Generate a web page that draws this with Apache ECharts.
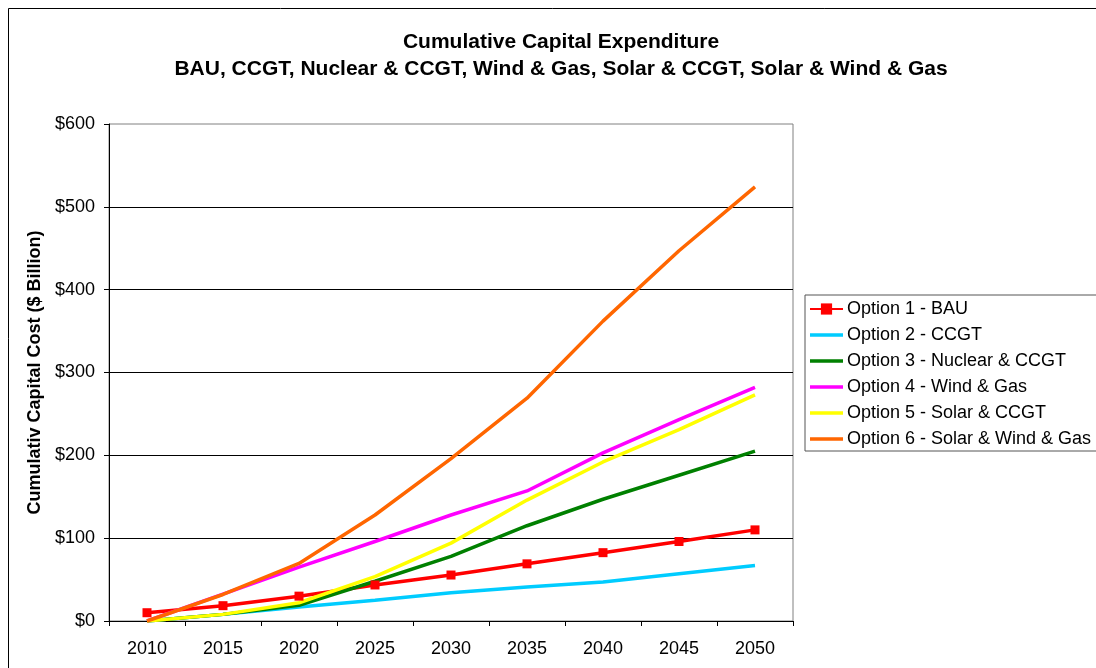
<!DOCTYPE html>
<html>
<head>
<meta charset="utf-8">
<script src="https://cdn.jsdelivr.net/npm/echarts@6/dist/echarts.min.js"></script>
<style>
  html, body { margin: 0; padding: 0; background: #fff; }
  #main { width: 1096px; height: 668px; }
</style>
</head>
<body>
<div id="main"></div>
<script>
// years on the x axis
var years = ['2010', '2015', '2020', '2025', '2030', '2035', '2040', '2045', '2050'];

// cumulative capital cost, $ billion
var bau        = [10, 18.5, 30, 43.5, 55.5, 69, 82.5, 96, 110];
var ccgt       = [0, 8, 17, 25, 34, 41, 47, 57, 67];
var nuclear    = [0, 8, 19, 48, 78, 115, 147, 176, 205];
var windGas    = [0, 32.5, 65, 96, 128, 157, 203, 243, 282];
var solarCcgt  = [0, 8, 22, 53.5, 94, 146, 192, 231, 273];
var solarWind  = [0, 32, 69.5, 128, 196, 269, 362, 447, 524];

var font = '"Liberation Sans", Arial, sans-serif';
// plain line for the legend (thin invisible sliver keeps the full height so the bar stays centred)
var lineIcon = 'path://M0,5.25 H33 V8.75 H0 Z M0,0 H0.01 V14 H0 Z';

var chart = echarts.init(document.getElementById('main'));

function lineSeries(name, data, color) {
  return {
    name: name,
    type: 'line',
    data: data,
    symbol: 'none',
    lineStyle: { color: color, width: 3.5 },
    itemStyle: { color: color },
    emphasis: { disabled: true }
  };
}

var option = {
  animation: false,
  backgroundColor: '#fff',
  title: {
    text: 'Cumulative Capital Expenditure\nBAU, CCGT, Nuclear & CCGT, Wind & Gas, Solar & CCGT, Solar & Wind & Gas',
    left: 556,
    top: 24,
    textAlign: 'center',
    textStyle: {
      fontFamily: font,
      fontWeight: 'bold',
      fontSize: 21,
      lineHeight: 27,
      color: '#000'
    }
  },
  graphic: [{
    type: 'rect',
    shape: { x: 8.5, y: 8.5, width: 1200, height: 800 },
    style: { fill: null, stroke: '#000', lineWidth: 1 },
    z: -1
  }],
  legend: {
    orient: 'vertical',
    left: 805,
    top: 295,
    padding: [5, 10, 3, 4],
    itemWidth: 33,
    itemHeight: 14,
    itemGap: 8,
    borderColor: '#555',
    borderWidth: 1,
    textStyle: { fontFamily: font, fontSize: 18, lineHeight: 18, color: '#000', padding: [0, 0, 0, -1] },
    data: [
      { name: 'Option 1 - BAU' },
      { name: 'Option 2 - CCGT', icon: lineIcon },
      { name: 'Option 3 - Nuclear & CCGT', icon: lineIcon },
      { name: 'Option 4 - Wind & Gas', icon: lineIcon },
      { name: 'Option 5 - Solar & CCGT', icon: lineIcon },
      { name: 'Option 6 - Solar & Wind & Gas', icon: lineIcon }
    ]
  },
  grid: {
    left: 109,
    right: 303,
    top: 124,
    bottom: 47,
    show: true,
    borderColor: '#808080',
    borderWidth: 1
  },
  xAxis: {
    type: 'category',
    data: years,
    boundaryGap: true,
    axisLine: { lineStyle: { color: '#000', width: 1 } },
    axisTick: { show: true, length: 5, lineStyle: { color: '#000' } },
    axisLabel: { fontFamily: font, fontSize: 18, color: '#000', margin: 19 }
  },
  yAxis: {
    type: 'value',
    min: 0,
    max: 600,
    interval: 100,
    name: 'Cumulativ Capital Cost ($ Billion)',
    nameLocation: 'middle',
    nameGap: 63,
    nameTextStyle: { fontFamily: font, fontSize: 18, fontWeight: 'bold', color: '#000' },
    axisLine: { show: true, lineStyle: { color: '#000', width: 1 } },
    axisTick: { show: true, length: 5, lineStyle: { color: '#000' } },
    axisLabel: {
      fontFamily: font, fontSize: 18, color: '#000', margin: 14,
      formatter: function (v) { return '$' + v; }
    },
    splitLine: { show: true, showMaxLine: false, lineStyle: { color: '#000', width: 1 } }
  },
  series: [
    {
      name: 'Option 1 - BAU',
      type: 'line',
      data: bau,
      symbol: 'rect',
      symbolSize: 9,
      lineStyle: { color: '#ff0000', width: 3.5 },
      itemStyle: { color: '#ff0000' },
      emphasis: { disabled: true }
    },
    lineSeries('Option 2 - CCGT', ccgt, '#00ccff'),
    lineSeries('Option 3 - Nuclear & CCGT', nuclear, '#008000'),
    lineSeries('Option 4 - Wind & Gas', windGas, '#ff00ff'),
    lineSeries('Option 5 - Solar & CCGT', solarCcgt, '#ffff00'),
    lineSeries('Option 6 - Solar & Wind & Gas', solarWind, '#ff6600')
  ]
};

chart.setOption(option);
</script>
</body>
</html>
